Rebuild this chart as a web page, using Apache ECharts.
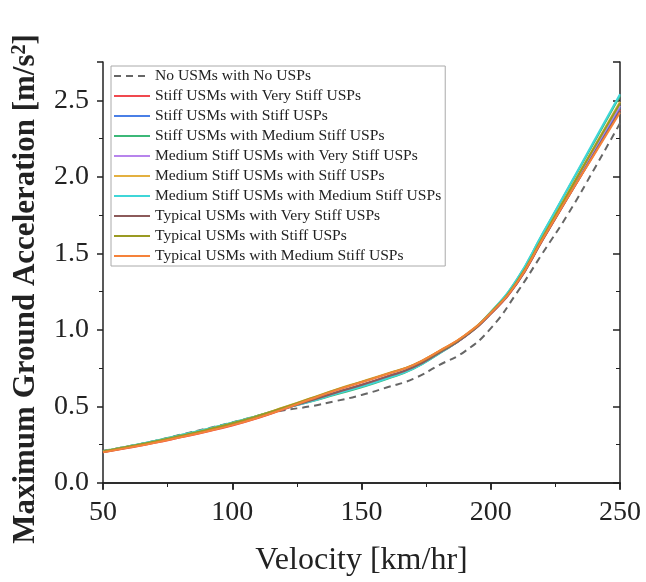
<!DOCTYPE html>
<html><head><meta charset="utf-8">
<script src="https://cdn.jsdelivr.net/npm/echarts@6/dist/echarts.min.js"></script>
<style>html,body{margin:0;padding:0;background:#fff}#c{width:646px;height:582px}</style>
</head><body><div id="c"></div>
<script>
var velocity = [50,60,70,80,90,100,110,120,130,140,150,160,170,180,190,200,210,220,230,240,250];
var seriesNames = [
  'No USMs with No USPs',
  'Stiff USMs with Very Stiff USPs',
  'Stiff USMs with Stiff USPs',
  'Stiff USMs with Medium Stiff USPs',
  'Medium Stiff USMs with Very Stiff USPs',
  'Medium Stiff USMs with Stiff USPs',
  'Medium Stiff USMs with Medium Stiff USPs',
  'Typical USMs with Very Stiff USPs',
  'Typical USMs with Stiff USPs',
  'Typical USMs with Medium Stiff USPs'
];
var noUSM      = [0.210,0.240,0.275,0.315,0.355,0.395,0.440,0.475,0.500,0.535,0.575,0.625,0.680,0.770,0.860,1.010,1.240,1.500,1.760,2.050,2.350];
var stiffVS    = [0.200,0.230,0.262,0.298,0.335,0.376,0.425,0.482,0.538,0.592,0.642,0.697,0.757,0.852,0.958,1.105,1.300,1.585,1.870,2.150,2.440];
var stiffS     = [0.205,0.237,0.270,0.306,0.344,0.386,0.434,0.487,0.535,0.588,0.638,0.692,0.753,0.850,0.957,1.108,1.305,1.592,1.880,2.165,2.455];
var stiffMS    = [0.207,0.240,0.275,0.313,0.352,0.394,0.440,0.488,0.530,0.578,0.625,0.680,0.745,0.845,0.958,1.115,1.325,1.625,1.925,2.225,2.530];
var medVS      = [0.205,0.238,0.271,0.308,0.346,0.388,0.435,0.486,0.533,0.585,0.634,0.688,0.750,0.848,0.957,1.110,1.310,1.600,1.890,2.180,2.465];
var medS       = [0.206,0.238,0.272,0.309,0.348,0.391,0.440,0.495,0.552,0.610,0.662,0.715,0.772,0.862,0.965,1.115,1.315,1.605,1.900,2.195,2.490];
var medMS      = [0.206,0.239,0.274,0.312,0.351,0.393,0.439,0.487,0.532,0.582,0.630,0.684,0.748,0.847,0.958,1.117,1.328,1.628,1.930,2.235,2.540];
var typVS      = [0.203,0.234,0.266,0.302,0.340,0.381,0.429,0.484,0.537,0.590,0.640,0.695,0.755,0.850,0.955,1.105,1.300,1.585,1.870,2.150,2.430];
var typS       = [0.206,0.238,0.271,0.308,0.347,0.390,0.439,0.494,0.550,0.607,0.660,0.713,0.770,0.860,0.963,1.113,1.313,1.602,1.895,2.190,2.480];
var typMS      = [0.201,0.231,0.263,0.299,0.337,0.378,0.427,0.484,0.545,0.605,0.658,0.712,0.770,0.862,0.965,1.110,1.305,1.590,1.872,2.145,2.420];
var allValues = [noUSM, stiffVS, stiffS, stiffMS, medVS, medS, medMS, typVS, typS, typMS];
var colors = ['#666666','#f0494f','#4a7fe6','#3cb878','#b784ec','#e3b040','#3fd6d8','#8c5a5a','#9a9a22','#f5823a'];
var xTicks = [50,100,150,200,250];
var yTicks = [0.0,0.5,1.0,1.5,2.0,2.5];

var FONT = '"Liberation Serif","Times New Roman",serif';
var chart = echarts.init(document.getElementById('c'), null, {renderer:'canvas'});
var series = allValues.map(function(vals, i){
  return {
    name: seriesNames[i], type:'line', smooth:true, symbol:'none', showSymbol:false,
    xAxisIndex:0, yAxisIndex:0,
    data: velocity.map(function(v,k){return [v, vals[k]];}),
    lineStyle: i===0 ? {color:colors[i], width:2, type:[7,5]} : {color:colors[i], width:2},
    itemStyle:{color:colors[i]},
    z: i===0 ? 1 : 2+i
  };
});
var axisLine = {show:true, lineStyle:{color:'#222', width:1.5}};
chart.setOption({
  animation:false,
  grid:{left:103, right:26, top:62, bottom:96},
  legend:{
    data: seriesNames, orient:'vertical', left:111, top:66,
    backgroundColor:'#fff', borderColor:'#aaa', borderWidth:1,
    padding:[0,4,0,2], itemWidth:36, itemHeight:10, itemGap:0,
    itemStyle:{opacity:0, borderWidth:0},
    textStyle:{fontFamily:FONT, fontSize:15.6, color:'#222', lineHeight:20}
  },
  xAxis:[
    {type:'value', min:xTicks[0], max:xTicks[xTicks.length-1], interval:50, position:'bottom',
     axisLine:axisLine, axisTick:{show:true, length:6, lineStyle:{color:'#222',width:1.5}},
     minorTick:{show:true, splitNumber:2, length:4, lineStyle:{color:'#222'}},
     splitLine:{show:false},
     axisLabel:{fontFamily:FONT, fontSize:28, color:'#222', margin:16},
     name:'Velocity [km/hr]', nameLocation:'middle', nameGap:62,
     nameTextStyle:{fontFamily:FONT, fontSize:32, color:'#222'}},
    {type:'value', min:50, max:250, interval:50, position:'top',
     axisLine:axisLine, axisTick:{show:true, inside:true, length:7, lineStyle:{color:'#222',width:1.5}},
     minorTick:{show:true, splitNumber:2, length:4, lineStyle:{color:'#222'}},
     splitLine:{show:false}, axisLabel:{show:false}}
  ],
  yAxis:[
    {type:'value', min:0, max:2.75, interval:0.5, position:'left',
     axisLine:axisLine, axisTick:{show:true, length:6, lineStyle:{color:'#222',width:1.5}},
     minorTick:{show:true, splitNumber:2, length:4, lineStyle:{color:'#222'}},
     splitLine:{show:false},
     axisLabel:{fontFamily:FONT, fontSize:28, color:'#222', margin:14, showMaxLabel:false,
       formatter:function(v){return v.toFixed(1);}}},
    {type:'value', min:0, max:2.75, interval:0.5, position:'right',
     axisLine:axisLine, axisTick:{show:true, inside:true, length:7, lineStyle:{color:'#222',width:1.5}},
     minorTick:{show:true, splitNumber:2, length:4, lineStyle:{color:'#222'}},
     splitLine:{show:false}, axisLabel:{show:false}}
  ],
  graphic:[{
    type:'text', x:26, y:289,
    rotation:Math.PI/2,
    style:{
      text:'Maximum Ground Acceleration [m/s{sup|2}]',
      fontFamily:FONT, fontSize:31, fontWeight:'bold', fill:'#222',
      align:'center', verticalAlign:'middle',
      rich:{ sup:{fontFamily:FONT, fontSize:20, fontWeight:'bold', fill:'#222', verticalAlign:'top', lineHeight:33} }
    }
  }],
  series: series
});
</script></body></html>
